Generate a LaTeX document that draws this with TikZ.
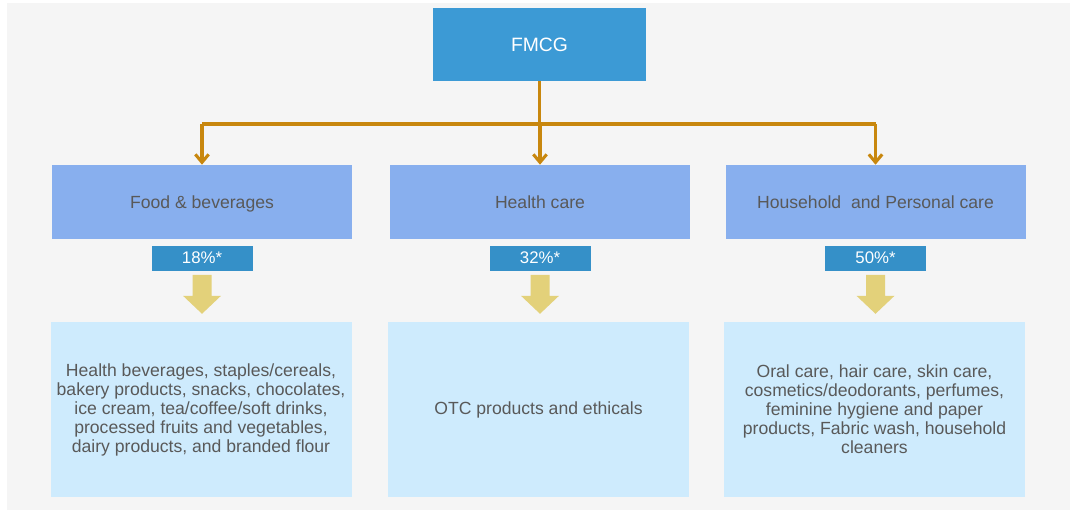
\documentclass[tikz,border=0pt]{standalone}
\usepackage{fontspec}
\setmainfont{Liberation Sans}
\usetikzlibrary{positioning,arrows.meta}

\definecolor{bggray}{HTML}{F5F5F5}
\definecolor{fmcgblue}{HTML}{3C9AD5}
\definecolor{segblue}{HTML}{88AFEE}
\definecolor{shareblue}{HTML}{3590C8}
\definecolor{itemblue}{HTML}{CEEBFD}
\definecolor{linkorange}{HTML}{C8870E}
\definecolor{arrowyellow}{HTML}{E3D17A}
\definecolor{txtgray}{HTML}{595959}

\begin{document}
\begin{tikzpicture}[x=0.75pt,y=-0.75pt,
    every node/.style={inner sep=0pt,align=center,font=\fontsize{13.2}{14.25}\selectfont},
    top/.style={fill=fmcgblue,text=white,minimum width=159.75pt,minimum height=54.75pt,
      font=\fontsize{14.5}{16}\selectfont},
    segment/.style={fill=segblue,text=txtgray,minimum width=225pt,minimum height=55.5pt,
      text depth=0pt},
    share/.style={fill=shareblue,text=white,minimum width=75.75pt,minimum height=18.75pt,
      font=\fontsize{12.6}{14}\selectfont},
    items/.style={fill=itemblue,text=txtgray,minimum width=225.75pt,minimum height=131.25pt},
    link/.style={draw=linkorange,line width=2.3pt},
    bigarrow/.style={fill=arrowyellow}]
  \useasboundingbox (0,0) rectangle (1070,510);
  \fill[bggray] (7,3) rectangle (1070,510);

  \node[top] (fmcg) at (539.5,44.5) {FMCG};

  \node[segment] (food) at (202,202) {Food \& beverages};
  \node[segment] (health) at (540,202) {Health care};
  \node[segment] (house) at (875.5,202) {Household\ \ and Personal care};

  \node[share] (sfood) [below=4.5pt of food] {18\%*};
  \node[share] (shealth) [below=4.5pt of health] {32\%*};
  \node[share] (shouse) [below=4.5pt of house] {50\%*};

  \node[items] (ifood) at (201,409.5) {Health beverages, staples/cereals,\\
    bakery products, snacks, chocolates,\\ ice cream, tea/coffee/soft drinks,\\
    processed fruits and vegetables,\\ dairy products, and branded flour};
  \node[items] (ihealth) at (538.5,409.5) {OTC products and ethicals};
  \node[items] (ihouse) at (874.5,409.5) {Oral care, hair care, skin care,\\
    cosmetics/deodorants, perfumes,\\ feminine hygiene and paper\\
    products, Fabric wash, household\\ cleaners};

  % connectors
  \coordinate (bus) at (540,124);
  \draw[link] (fmcg.south) -- (fmcg.south |- bus);
  \draw[link] (food.north |- bus) -- (house.north |- bus);
  \foreach \s in {food,health,house}
    \draw[link,-{Straight Barb[length=6pt,width=10pt]}] (\s.north |- bus) -- (\s.north);

  % fat arrows
  \foreach \s in {sfood,shealth,shouse}
    \fill[bigarrow,shift={(\s.south)}] (-9.5,4) -- (9.5,4) -- (9.5,25) -- (19,25)
      -- (0,43) -- (-19,25) -- (-9.5,25) -- cycle;
\end{tikzpicture}
\end{document}
